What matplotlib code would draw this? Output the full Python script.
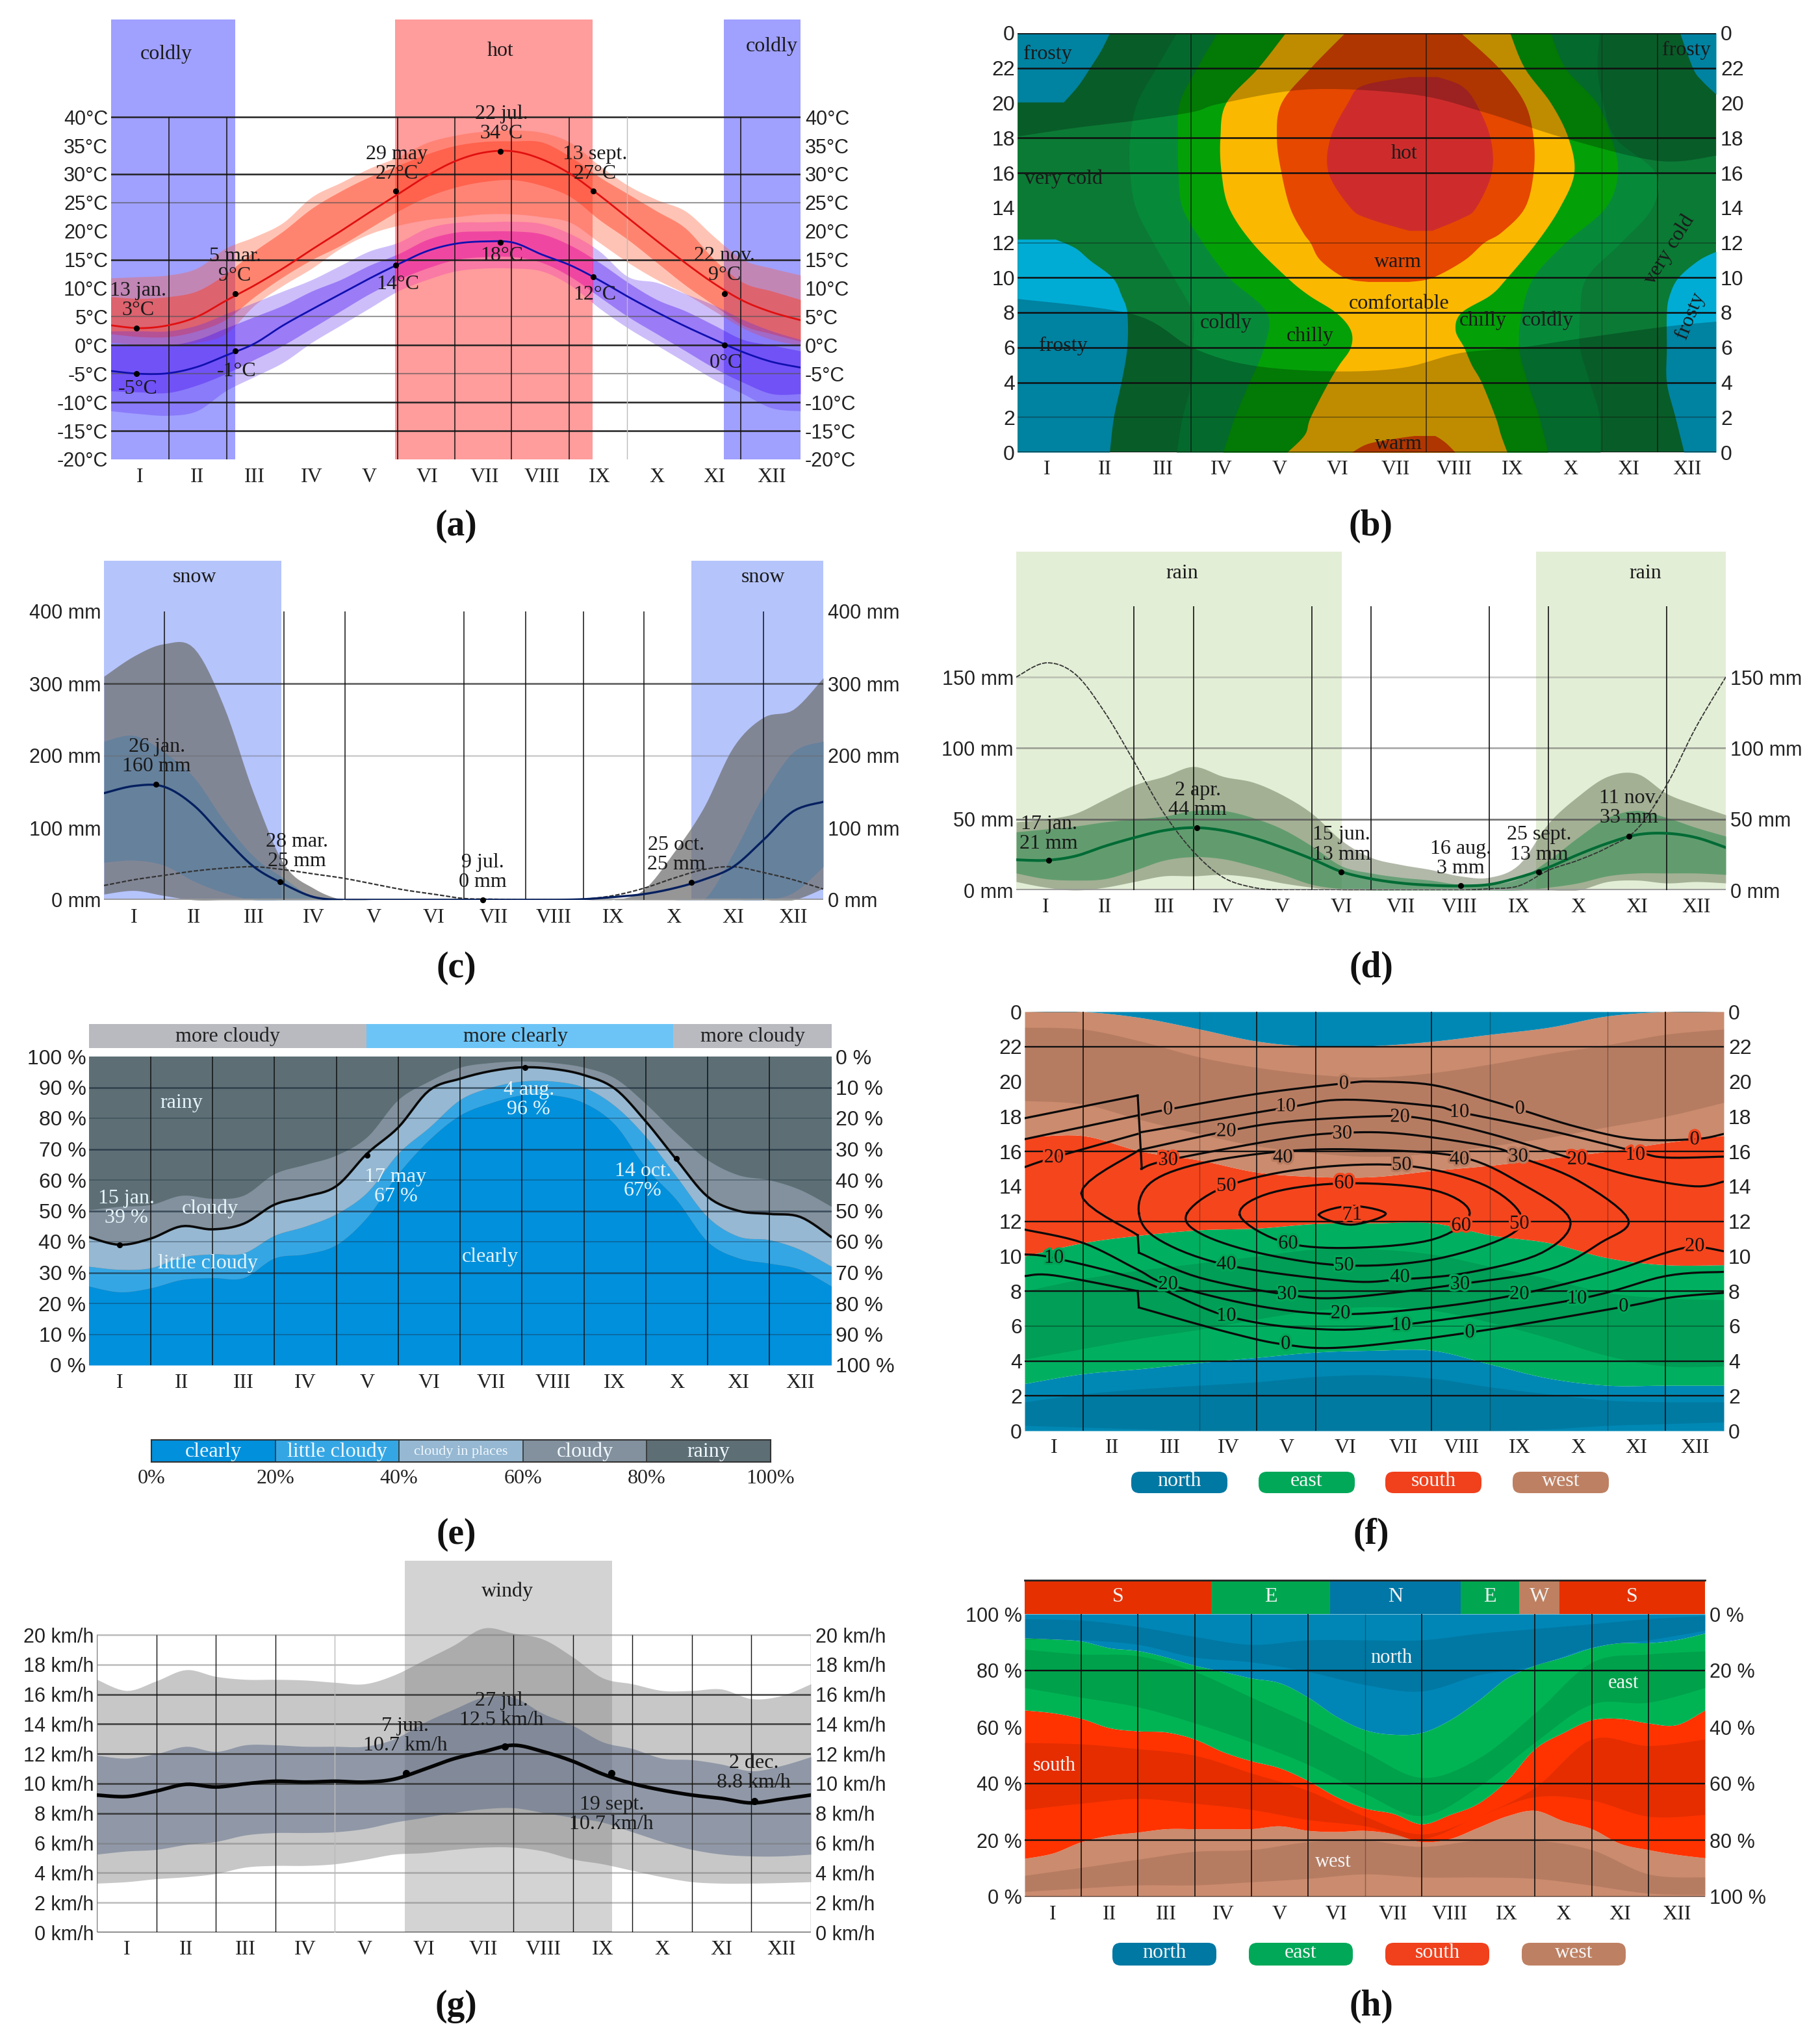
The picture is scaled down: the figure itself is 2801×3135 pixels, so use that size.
import numpy as np
import matplotlib
matplotlib.use('Agg')
import matplotlib.pyplot as plt
import matplotlib.patheffects as pe
from matplotlib.patches import FancyBboxPatch, Rectangle

plt.rcParams['font.family'] = ['Liberation Serif', 'DejaVu Serif']
SANS = ['Liberation Sans', 'DejaVu Sans']
W, H = 2801, 3135
MONTHS = ['I', 'II', 'III', 'IV', 'V', 'VI', 'VII', 'VIII', 'IX', 'X', 'XI', 'XII']
half = np.arange(25) * 0.5
months13 = np.arange(13)

# ---------- (a) temperature
a_cold_spans = [(0, 2.16), (10.67, 12)]
a_hot_span = (4.95, 8.38)
a_hi_mean = [3.5, 3.0, 3.5, 5.0, 7.8, 10.5, 13.5, 16.8, 20, 23.3, 26.5, 29.7, 32.3, 33.8, 34, 32.6, 30, 26.3, 22.3, 18.3, 14.4, 10.8, 7.8, 5.8, 4.4]
a_hi_o_up = [11.8, 12, 12.3, 13.5, 17, 19, 21.5, 26, 28.5, 31, 33, 35.5, 36.8, 37.5, 37.7, 37.3, 35.5, 31.5, 28, 25.5, 23.5, 19, 15, 13.5, 12.3]
a_hi_o_lo = [.5, .1, 0, .5, 2, 7, 10.5, 13.5, 17, 19.5, 21, 22, 22.5, 23, 23, 22.5, 21.5, 18, 14.5, 11.5, 9, 6, 3, 1, 0]
a_hi_i_up = [8.5, 8.2, 8.5, 9.5, 12.5, 16.5, 20, 24, 27, 29.5, 31.5, 33.5, 35, 35.7, 35.8, 35.6, 33, 29.5, 26.5, 23.5, 20.5, 15, 11, 9.5, 8]
a_hi_i_lo = [2, 1.5, 1.5, 2.5, 4.5, 8.5, 12, 15, 17.5, 20.5, 23.5, 26, 27.7, 28.7, 29, 28, 26, 22, 18.5, 14.5, 10.5, 7, 3.5, 2, .7]
a_lo_mean = [-4.5, -5, -4.9, -3.8, -1.8, .3, 3.5, 6.3, 9, 11.7, 14.2, 16.5, 17.8, 18.2, 18, 15.9, 14, 11.4, 8.5, 5.8, 3.3, 1, -1.2, -2.9, -3.9]
a_lo_o_up = [2.5, 2.5, 2.5, 3.5, 5.5, 7.5, 9.5, 11.5, 14, 16.5, 18, 20.5, 21.5, 21.6, 21.7, 21.3, 19.5, 16.5, 12, 11, 9, 7, 4.5, 2.5, 1]
a_lo_o_lo = [-11.5, -12, -12.3, -11.5, -8, -5.5, -3, .5, 3.5, 6.5, 9.5, 11.5, 13, 13.5, 13.5, 13, 10.5, 6.5, 3, 0, -3, -6, -8.5, -11, -11.5]
a_lo_i_up = [0, 0, 0, 1, 3, 5, 7, 9.5, 11.5, 14, 16, 18.5, 19.8, 20, 20, 19.5, 17.5, 14.5, 11, 8, 6, 3.5, 1, 0, -1]
a_lo_i_lo = [-8, -8.2, -8.3, -7, -5, -2.5, 0, 3, 6, 9, 11.5, 13.5, 15, 15.5, 15.5, 14.5, 12, 8.5, 5, 2, -1, -4, -6.5, -8.5, -8.5]
a_hi_pts = ([.45, 2.16, 4.96, 6.78, 8.39, 10.68], [3, 9, 27, 34, 27, 9])
a_lo_pts = ([.45, 2.16, 4.96, 6.78, 8.39, 10.68], [-5, -1, 14, 18, 12, 0])
a_ticks = [-20, -15, -10, -5, 0, 5, 10, 15, 20, 25, 30, 35, 40]
a_major = [40, 30, 15, 0, -10, -15]
a_minor = [25, 5, -5]
a_vlines = [1.01, 2.02, 4.99, 5.99, 6.97, 7.97, 10.96]
a_vlight = [8.98]
a_notes = [('13 jan.\n3°C', .47, 7.8), ('5 mar.\n9°C', 2.16, 13.9), ('29 may\n27°C', 4.98, 31.8), ('22 jul.\n34°C', 6.8, 38.8),
           ('13 sept.\n27°C', 8.42, 31.8), ('22 nov.\n9°C', 10.68, 14), ('-5°C', .47, -7.7), ('-1°C', 2.19, -4.6),
           ('14°C', 4.99, 10.7), ('18°C', 6.8, 15.7), ('12°C', 8.42, 8.9), ('0°C', 10.7, -3.1),
           ('coldly', .96, 51), ('coldly', 11.5, 52.4), ('hot', 6.78, 51.6)]

# ---------- (b) thermal comfort by hour and month
b_cold_h = [0, 2, 4, 6, 8, 10, 12, 14, 16, 18, 20, 22, 24]
b_cold_l = [2.73, 2.83, 2.98, 3.01, 3.0, 2.68, 2.33, 2.03, 1.93, 1.93, 2.05, 2.38, 2.73]
b_cold_r = [10.01, 10.0, 9.83, 9.66, 9.66, 9.77, 10.36, 10.9, 10.96, 10.27, 10.06, 9.96, 10.0]
b_chil_l = [3.53, 3.73, 3.98, 4.23, 4.28, 3.63, 3.18, 2.83, 2.76, 2.75, 2.78, 3.08, 3.43]
b_chil_r = [9.11, 8.96, 8.76, 8.61, 8.66, 8.86, 9.41, 10.1, 10.31, 10.2, 9.95, 9.41, 9.16]
b_comf_h = [0, 1, 2, 4, 5, 6, 7, 8, 9, 10, 12, 14, 16, 18, 20, 22, 24]
b_comf_l = [4.63, 4.93, 5.03, 5.34, 5.52, 5.72, 5.72, 5.47, 5.0, 4.63, 4.03, 3.63, 3.5, 3.48, 3.58, 4.13, 4.6]
b_comf_r = [8.41, 8.3, 8.21, 7.97, 7.8, 7.67, 7.52, 7.62, 8.12, 8.41, 8.91, 9.31, 9.56, 9.46, 9.16, 8.71, 8.46]
b_warm_h = [9.77, 10, 11, 12, 12.6, 14, 16, 18, 20, 22, 24]
b_warm_l = [6.02, 5.62, 5.2, 5.03, 4.9, 4.68, 4.53, 4.45, 4.53, 5.03, 5.62]
b_warm_r = [6.72, 7.12, 7.67, 8.01, 8.31, 8.71, 8.86, 8.86, 8.71, 8.27, 7.62]
b_warm2_h = [0, .5, .8, .95]
b_warm2_l = [5.74, 6.02, 6.5, 6.82]
b_warm2_r = [7.52, 7.37, 7.25, 7.17]
b_hot_h = [12.7, 13.4, 14, 16, 18, 20, 21, 21.5]
b_hot_l = [6.72, 6.02, 5.72, 5.34, 5.37, 5.67, 5.92, 6.72]
b_hot_r = [7.12, 7.62, 7.87, 8.14, 8.12, 7.87, 7.62, 7.22]
b_fr1_h = [0, 2, 4, 6, 8, 9, 10, 11, 11.7, 12.2]
b_fr1_r = [1.58, 1.65, 1.78, 1.88, 1.88, 1.78, 1.63, 1.24, .99, .65]
b_fr2_h = [20.05, 21, 22, 23, 24]
b_fr2_r = [.79, 1.04, 1.24, 1.43, 1.58]
b_fr3_h = [0, 2, 4, 6, 8, 9, 10, 11, 11.5]
b_fr3_l = [11.45, 11.3, 11.15, 11.15, 11.15, 11.2, 11.35, 11.7, 12]
b_fr4_h = [20.5, 21.3, 22, 24]
b_fr4_l = [12, 11.75, 11.6, 11.38]
b_night_up_x = [0, 1, 2, 3, 3.5, 5, 6.8, 8, 9.4, 11, 12]
b_night_up_h = [18.1, 18.6, 19, 19.5, 20, 20.8, 20.5, 19.5, 18, 16.7, 17]
b_night_lo_x = [0, 2, 3, 4, 5.4, 6.6, 7.6, 8.6, 9.6, 11.1, 12]
b_night_lo_h = [8.8, 7.9, 6, 5, 4.65, 4.85, 5.7, 6, 6.5, 7.2, 7.5]
b_strong = [22, 18, 16, 10, 8, 6, 4, 0, 24]
b_faint = [12, 2]
b_vlines = [2.98, 7.02, 11.0]
b_vfaint = [10.03]
b_notes = [('frosty', .52, 22.8, 0), ('frosty', 11.49, 23, 0), ('very cold', .79, 15.65, 0), ('hot', 6.64, 17.1, 0), ('warm', 6.54, 10.9, 0),
           ('comfortable', 6.55, 8.5, 0), ('warm', 6.55, .45, 0), ('coldly', 3.58, 7.4, 0), ('chilly', 5.02, 6.65, 0), ('chilly', 8, 7.55, 0),
           ('coldly', 9.11, 7.55, 0), ('frosty', .79, 6.1, 0), ('frosty', 11.56, 7.8, 68), ('very cold', 11.2, 11.6, 58)]

# ---------- (c) snow
c_spans = [(0, 2.96), (9.8, 12)]
c_o_up = [310, 338, 355, 349, 268, 147, 50, 16, 0, 0, 0, 0, 0, 0, 0, 0, 0, 0, 14, 65, 127, 212, 253, 264, 308]
c_i_up = [220, 228, 205, 170, 110, 60, 30, 4, 0, 0, 0, 0, 0, 0, 0, 0, 0, 0, 0, 0, 0, 65, 145, 205, 220]
c_i_lo = [52, 55, 48, 26, 10, 0, 0, 0, 0, 0, 0, 0, 0, 0, 0, 0, 0, 0, 0, 0, 0, 0, 0, 10, 46]
c_o_lo = [8, 13, 6, 0, 0, 0, 0, 0, 0, 0, 0, 0, 0, 0, 0, 0, 0, 0, 0, 0, 0, 0, 0, 0, 16]
c_mean = [148, 158, 157, 131, 87, 46, 22, 4, 0, 0, 0, 0, 0, 0, 0, 0, 1, 4, 8, 16, 28, 46, 83, 123, 136]
c_other = [20, 28, 34, 40, 44, 46, 42, 36, 30, 22, 14, 8, 2, 1, 0, 0, 1, 6, 16, 30, 42, 46, 38, 28, 15]
c_pts = ([.87, 2.94, 6.32, 9.8], [160, 25, 0, 24])
c_vlines = [1.01, 3, 4.02, 6.01, 7.03, 8, 9.01, 11]
c_notes = [('snow', 1.51, 447.6), ('snow', 11.0, 447.6), ('26 jan.\n160 mm', .88, 199), ('28 mar.\n25 mm', 3.22, 67),
           ('9 jul.\n0 mm', 6.32, 38), ('25 oct.\n25 mm', 9.55, 63)]

# ---------- (d) rain
d_spans = [(0, 5.5), (8.79, 12)]
d_o_up = [48, 50, 54, 64, 74, 80, 87, 80, 76, 67, 54, 35, 23, 18, 14.5, 10, 9, 18, 47, 66, 80, 82, 68, 60, 53]
d_i_up = [41, 43, 45, 48, 50, 52, 56, 56, 51, 43, 31, 17, 12, 9, 7, 4, 4, 8, 21, 37, 51, 56, 51, 44, 38]
d_i_lo = [12, 8, 7, 8, 14, 21, 23.5, 22, 17, 11, 4, 1, 0, 0, 0, 0, 0, 0, 2, 5, 10, 12, 12, 12, 11]
d_o_lo = [6, 2, 0, 2, 6, 10, 10, 11, 9, 5, 2, 0, 0, 0, 0, 0, 0, 0, 0, 0, 6, 7, 5, 6, 5]
d_mean = [21.4, 21, 24, 31, 37, 42, 44, 42, 37, 30, 22, 13, 8, 5, 3.5, 3, 4, 9, 16, 25, 33, 39, 40, 37, 30]
d_other = [150, 160, 152, 125, 90, 54, 27, 9, 2, 0, 0, 0, 0, 0, 0, 0, 1, 3, 14, 21, 30, 43, 74, 115, 150]
d_pts = ([.55, 3.05, 5.49, 7.52, 8.84, 10.36], [21, 44, 13, 3, 13, 38])
d_vlines = [1.99, 3, 5, 6, 8, 9, 11]
d_notes = [('rain', 2.81, 223), ('rain', 10.64, 223), ('17 jan.\n21 mm', .55, 39.4), ('2 apr.\n44 mm', 3.07, 63.4), ('15 jun.\n13 mm', 5.5, 32),
           ('16 aug.\n3 mm', 7.52, 22), ('25 sept.\n13 mm', 8.84, 32), ('11 nov.\n33 mm', 10.36, 57.8)]

# ---------- (e) cloud cover
e_clear = [25.6, 23.7, 25, 27.7, 28.3, 28.3, 34.7, 36, 39, 48, 62, 73, 81, 85, 87.5, 87.5, 85, 78, 64, 53.5, 40, 34.7, 33, 31, 25.6]
e_little = [32, 31, 31.5, 35, 36, 36.3, 42, 45, 49, 56, 68.6, 77, 86, 90, 92, 92, 90, 84, 74, 61, 48, 41.7, 40.6, 37.4, 32]
e_mean = [41.5, 39, 41, 45, 44, 45.8, 52, 54.6, 58, 68.6, 77, 89, 92.8, 95.3, 96.5, 96, 94, 89.6, 79, 66.5, 54.6, 50, 49, 48, 41.5]
e_cloudy = [50.3, 51.4, 52, 55, 54, 55, 62, 65, 68, 74, 86, 92, 96.5, 98, 98.5, 98, 96.5, 93, 84.7, 75, 66.5, 61.6, 60, 56.8, 51.4]
e_pts = ([.5, 4.5, 7.05, 9.5], [39, 68, 96.5, 67])
e_bar = [(0, 4.49, 'more cloudy', '#B9BAC0', 2.25), (4.49, 9.44, 'more clearly', '#6CC4F6', 6.9), (9.44, 12, 'more cloudy', '#B9BAC0', 10.73)]
e_notes = [('rainy', 1.5, 85), ('cloudy', 1.96, 50.6), ('little cloudy', 1.92, 33), ('clearly', 6.49, 35), ('15 jan.\n39 %', .61, 50.9),
           ('17 may\n67 %', 4.96, 57.7), ('4 aug.\n96 %', 7.11, 86), ('14 oct.\n67%', 8.95, 59.6)]
e_leg_names = ['clearly', 'little cloudy', 'cloudy in places', 'cloudy', 'rainy']
e_leg_cols = ['#0090DC', '#35A6E4', '#96B8D2', '#82919D', '#5D6F75']
e_leg_edges = [0, 20, 40, 60, 80, 100]

# ---------- (f) wind direction and sun elevation by hour
f_north = [2.7, 3.26, 3.55, 3.9, 4.2, 4.5, 4.6, 4.6, 3.8, 3, 2.6, 2.6, 2.6]
f_east = [10, 10.76, 11.2, 11.5, 11.6, 11.86, 11.9, 11.9, 11.2, 10.76, 9.9, 9.5, 9.5]
f_south = [16.8, 16.9, 16, 15.5, 14.8, 14.55, 14.55, 14.9, 15.2, 15.6, 16, 16.5, 16.9]
f_west = [24, 24, 23.65, 23, 22.3, 22, 22.05, 22.3, 22.7, 23.1, 23.75, 24, 24]
f_dark_bands = [([23.1, 23, 22.3, 21.4, 20.8, 20.4, 20.25, 20.5, 21, 21.6, 22.1, 22.7, 23],
                 [18.9, 18.7, 17.8, 17, 16.3, 15.9, 15.7, 15.9, 16.3, 16.8, 17.4, 18, 18.8]),
                ([8, 8.7, 9.2, 9.6, 10, 10.4, 10.4, 10.1, 9.4, 8.7, 7.9, 7.6, 7.5],
                 [4.1, 4.7, 5.3, 5.8, 6.4, 6.9, 7.1, 6.9, 6.2, 5.3, 4.3, 3.7, 3.7]),
                ([1.65, 2.1, 2.4, 2.6, 2.8, 3.1, 3.2, 3, 2.5, 2.1, 1.75, 1.65, 1.65],
                 [.3, .2, .1, 0, 0, 0, 0, 0, 0, .1, .3, .4, .5])]
f_contours = [
    ([0, 1.94], [17.9, 19.2]),
    ([2.01, 2.46, 4, 5.5, 6, 7, 8, 8.5, 9.48, 10.48, 11.5, 12], [18.1, 18.4, 19.3, 19.9, 20, 19.8, 18.9, 18.4, 17.4, 16.7, 16.7, 17]),
    ([0, 1.94], [16.7, 18.06]),
    ([2, 4.48, 5.5, 7, 7.46, 9, 10.48, 11, 12], [17.1, 18.5, 18.96, 18.6, 18.25, 17.2, 16, 15.65, 15.7]),
    ([0, .5, 1.94], [15.1, 15.65, 17]),
    ([2, 3.46, 4.5, 6, 6.8, 8, 9.48, 10.48, 11.5, 12], [16.1, 17.15, 17.7, 18, 17.9, 17, 15.5, 14.55, 14, 14.27]),
    ([2, 2.46, 4.4, 5.45, 6.5, 8, 8.47, 9.48, 10.36, 9.88, 9, 7.47, 5.5, 4.5, 3, 1.96], [15, 15.5, 16.7, 17.06, 17, 16.26, 15.7, 14.36, 12.1, 10.76, 9.24, 8.4, 7.63, 7.8, 8.77, 10.2]),
    ([1.94, .97, 1.96], [11.2, 13.6, 16.07]),
    ([1.96, 2.16, 3, 4.43, 5.8, 7.46, 8.5, 9.36, 8.88, 7.6, 6.44, 5.5, 3.46, 2.3, 1.96], [12.47, 14.2, 15.3, 16, 16.1, 15.7, 14.2, 12.1, 10.2, 9.05, 8.67, 8.58, 9.5, 10.95, 12.47]),
    ([2.79, 3.46, 4.8, 6.47, 7.8, 8.5, 8.29, 7, 5.48, 4, 3, 2.79], [12.47, 14, 15, 15.2, 14.2, 12.47, 11.14, 9.8, 9.47, 10.2, 11.33, 12.47]),
    ([3.69, 4.2, 5.48, 7, 7.64, 7, 5.5, 4.4, 3.69], [12.37, 13.6, 14.17, 13.8, 12.47, 10.95, 10.47, 10.85, 12.37]),
    ([5.05, 5.6, 6.2, 5.6, 5.05], [12.37, 12.88, 12.43, 11.8, 12.37]),
    ([0, 1, 1.93, 2.46, 4, 5.42, 7, 8.49, 10, 11, 11.5, 12], [11.52, 10.76, 9.24, 8.39, 7.15, 6.68, 7.06, 7.82, 9.05, 10.19, 10.53, 10.28]),
    ([0, .5, 1.93, 3.46, 5, 6.44, 9.48, 11, 12], [10.1, 9.9, 8.67, 6.58, 5.83, 6.05, 7.53, 8.86, 9.1]),
    ([0, .5, 1.94], [8.86, 8.9, 8]),
    ([1.96, 3.5, 4.48, 5.5, 7.64, 10.28, 11.08, 12], [7.06, 5.63, 4.93, 4.78, 5.63, 7.1, 7.63, 7.9]),
]
f_jumps = [([1.94, 2.01], [19.2, 15]), ([1.94, 1.96], [8, 7.06]), ([1.96, 1.94], [10.2, 11.2])]
f_labels = [('0', 5.48, 19.87), ('0', 2.46, 18.4), ('0', 8.5, 18.44), ('0', 11.5, 16.68), ('0', 4.48, 4.97), ('0', 7.64, 5.63), ('0', 10.28, 7.12),
            ('10', 4.48, 18.58), ('10', 7.46, 18.25), ('10', 10.48, 15.8), ('10', .5, 9.9), ('10', 3.46, 6.58), ('10', 6.46, 6.05), ('10', 9.48, 7.57),
            ('20', .5, 15.65), ('20', 3.46, 17.15), ('20', 6.44, 17.97), ('20', 9.48, 15.54), ('20', 11.5, 10.57), ('20', 2.46, 8.39), ('20', 5.42, 6.72), ('20', 8.49, 7.82),
            ('30', 2.46, 15.5), ('30', 5.45, 17.02), ('30', 8.47, 15.7), ('30', 4.5, 7.82), ('30', 7.47, 8.39),
            ('40', 4.43, 15.65), ('40', 7.46, 15.54), ('40', 3.46, 9.53), ('40', 6.44, 8.8),
            ('50', 3.46, 14.02), ('50', 6.47, 15.22), ('50', 8.49, 11.86), ('50', 5.48, 9.47),
            ('60', 5.48, 14.17), ('60', 7.49, 11.75), ('60', 4.52, 10.72), ('71', 5.62, 12.37)]
f_strong = [22, 16, 12, 8, 4, 2]
f_faint = [6]
f_vlines = [1, 3.98, 5, 6.98, 11]
f_vfaint = [3, 7.99, 10]
wind_names = ['north', 'east', 'south', 'west']

# ---------- (g) wind speed
g_span = (5.18, 8.66)
g_o_up = [17, 16.25, 16.9, 17.65, 17.2, 17, 17, 16.95, 16.8, 16.7, 17.3, 18.3, 19.3, 20.45, 20.1, 19.7, 18.5, 17.1, 16.7, 16.25, 16.25, 16.35, 15.7, 15.9, 16.7]
g_i_up = [11.9, 11.7, 12, 12.5, 12.15, 12.6, 12.6, 12.5, 12.5, 12.5, 13, 14.1, 15, 15.8, 15.8, 14.7, 13.9, 12.8, 12.35, 11.7, 11.6, 11.3, 10.85, 11.2, 11.8]
g_i_lo = [5.25, 5.46, 5.57, 5.9, 6.1, 6.54, 6.7, 6.7, 6.75, 6.97, 7.4, 7.72, 8.05, 8.3, 8.37, 8.05, 7.72, 7.4, 6.75, 6.1, 5.57, 5.25, 5.13, 5.13, 5.25]
g_o_lo = [3.3, 3.4, 3.6, 3.73, 3.95, 4.38, 4.49, 4.49, 4.6, 4.9, 5.25, 5.35, 5.57, 5.72, 5.72, 5.46, 4.92, 4.6, 4.16, 3.73, 3.4, 3.3, 3.3, 3.34, 3.4]
g_mean = [9.23, 9.13, 9.5, 9.95, 9.77, 9.99, 10.16, 10.1, 10.16, 10.1, 10.3, 10.96, 11.67, 12.15, 12.58, 12.15, 11.5, 10.64, 10, 9.56, 9.23, 9, 8.7, 8.95, 9.23]
g_pts = ([5.2, 6.86, 8.65, 11.05], [10.7, 12.5, 10.7, 8.8])
g_ticks = [0, 2, 4, 6, 8, 10, 12, 14, 16, 18, 20]
g_dark = [16, 14, 12, 10, 8]
g_light = [20, 18, 6, 4, 2]
g_vlines = [1, 2, 3, 7, 8, 9, 10, 11]
g_vfaint = [4]
g_notes = [('windy', 6.9, 22.9), ('27 jul.\n12.5 km/h', 6.8, 14.9), ('7 jun.\n10.7 km/h', 5.18, 13.2), ('19 sept.\n10.7 km/h', 8.65, 7.94), ('2 dec.\n8.8 km/h', 11.04, 10.74)]

# ---------- (h) wind direction shares
h_west = [13.5, 15.4, 19.4, 21.7, 22.8, 24, 24, 24, 24, 25, 23.4, 23, 23.4, 22.2, 19.4, 20.5, 24.5, 28.5, 30.5, 26.8, 24, 18.8, 16.6, 14.9, 13.7]
h_south = [66, 65, 63, 59.7, 58.6, 58.2, 55.7, 51.2, 48, 45.5, 41, 35.3, 31.3, 29.4, 25.7, 29, 33, 41, 52.3, 58, 62.5, 63, 61.4, 60.8, 66]
h_east = [91.5, 91.1, 90.4, 88, 87, 84.7, 81.8, 79.6, 77.3, 75.6, 70.5, 63.7, 59, 57.4, 58, 62.5, 69.4, 77.3, 81.8, 84.7, 88, 89.8, 89.8, 90.9, 93.2]
h_north_dark = ([98.3, 97.8, 95.5, 92, 89.2, 90.8, 90.8, 90.8, 93.1, 94.8, 96.5, 98.3, 99.4], [91.1, 90.8, 89.2, 84.7, 83, 79.6, 75, 72.7, 78.4, 81.8, 88.3, 90.8, 94.2])
h_east_dark = ([87.5, 85.8, 85.2, 79.6, 70.5, 61.4, 51.2, 42.1, 48.9, 64.9, 82.9, 85.8, 86.9], [73.9, 70.5, 67.1, 61.4, 54.6, 46.7, 36.5, 28.6, 38.8, 54.6, 68.1, 68.7, 73.9])
h_south_dark = ([54.5, 54, 52.3, 50, 43.7, 37.5, 28.4, 22.1, 28.4, 38.6, 55.7, 53.4, 55.7], [30.8, 33, 34.7, 33, 30.8, 27.2, 25, 20.4, 28.4, 35.3, 34.1, 28.4, 29])
h_west_dark = ([7.5, 10.3, 13.2, 16, 16.6, 19.4, 20, 17.7, 20, 20, 16.6, 8, 6.9], [1.8, 3, 4.1, 4.1, 5.2, 6.4, 8, 6.9, 6.9, 6.4, 4, 1.2, .7])
h_bar = [(0, 3.29, 'S', '#E63000'), (3.29, 5.39, 'E', '#00A650'), (5.39, 7.69, 'N', '#0077A6'), (7.69, 8.72, 'E', '#00A650'), (8.72, 9.43, 'W', '#BE8060'), (9.43, 12, 'S', '#E63000')]
h_ticks = [0, 20, 40, 60, 80, 100]
h_notes = [('north', 6.47, 84.4), ('east', 10.56, 75.6), ('south', .53, 46.4), ('west', 5.44, 12.4)]
h_vlines = [1, 2, 3, 4, 5, 7, 9, 10, 11]

captions = [('(a)', 702, 810), ('(b)', 2110, 810), ('(c)', 702, 1490), ('(d)', 2110, 1490), ('(e)', 702, 2362), ('(f)', 2110, 2362), ('(g)', 702, 3088), ('(h)', 2110, 3088)]

# ---------- helpers
fig = plt.figure(figsize=(W / 100, H / 100), dpi=100, facecolor='white')


def axpx(x0, x1, ytop, ybot):
    a = fig.add_axes([x0 / W, 1 - ybot / H, (x1 - x0) / W, (ybot - ytop) / H])
    return a


def smooth(x, *ys, n=8):
    """Catmull-Rom rendering of polylines through the listed values (closed loops wrap)."""
    arrs = [np.asarray(v, float) for v in (x,) + ys]
    closed = all(a[0] == a[-1] for a in arrs) and len(arrs) > 1 and len(arrs[0]) > 3
    out = []
    for a in arrs:
        p = np.r_[a[-2], a, a[1]] if closed else np.r_[a[0], a, a[-1]]
        seg = []
        for i in range(1, len(p) - 2):
            t = np.linspace(0, 1, n, endpoint=False)
            seg.append(.5 * (2 * p[i] + (p[i + 1] - p[i - 1]) * t + (2 * p[i - 1] - 5 * p[i] + 4 * p[i + 1] - p[i + 2]) * t ** 2 +
                             (3 * p[i] - p[i - 1] - 3 * p[i + 1] + p[i + 2]) * t ** 3))
        seg.append(a[-1:])
        out.append(np.concatenate(seg))
    return out


def panel(rect, ylim, lticks, llabels, rticks=None, rlabels=None, size=22):
    a = axpx(*rect)
    a.set_xlim(0, 12)
    a.set_ylim(*ylim)
    for s in a.spines.values():
        s.set_visible(False)
    a.set_xticks(np.arange(12) + .5, MONTHS)
    a.tick_params(axis='x', length=0, pad=9, labelsize=23, labelcolor='#222222')
    a.set_yticks(lticks, llabels)
    a.tick_params(axis='y', length=0, pad=3, labelsize=size, labelcolor='#222222')
    for t in a.get_yticklabels():
        t.set_fontfamily(SANS)
    b = a.twinx()
    b.set_ylim(*ylim)
    for s in b.spines.values():
        s.set_visible(False)
    b.set_yticks(rticks if rticks is not None else lticks, rlabels if rlabels is not None else llabels)
    b.tick_params(axis='y', length=0, pad=5, labelsize=size, labelcolor='#222222')
    for t in b.get_yticklabels():
        t.set_fontfamily(SANS)
    return a


def band(a, lo, hi, color, alpha, z=2, clip=None):
    xs, l, h = smooth(half, lo, hi)
    p = a.fill_between(xs, l, h, color=color, alpha=alpha, lw=0, zorder=z)
    if clip is not None:
        p.set_clip_path(Rectangle((clip[0], -500), clip[1] - clip[0], 2000, transform=a.transData))


def note(a, txt, x, y, color='#1a1a1a', size=23, rot=0):
    a.text(x, y, txt, ha='center', va='center', fontsize=size, color=color, rotation=rot, linespacing=1.05, zorder=20)


def hl(a, ys, color='#222222', lw=2, alpha=1, z=6):
    for v in ys:
        a.axhline(v, color=color, lw=lw, alpha=alpha, zorder=z)


# ---------- (a)
ax = panel((170.5, 1232, 30, 707), (-20, 57.1), a_ticks, [f'{v}°C' for v in a_ticks])
for s in a_cold_spans:
    ax.axvspan(*s, color='#A0A0FF', lw=0, zorder=1)
ax.axvspan(*a_hot_span, color='#FF9C9C', lw=0, zorder=1)
band(ax, a_hi_o_lo, a_hi_o_up, '#FF5A32', .36)
band(ax, a_hi_i_lo, a_hi_i_up, '#FF3A1E', .46)
for clip_span in [(0, a_hot_span[0]), (a_hot_span[1], 12)]:
    band(ax, a_lo_o_lo, a_lo_o_up, '#5A28F0', .30, 3, clip_span)
    band(ax, a_lo_i_lo, a_lo_i_up, '#4A10F0', .38, 3, clip_span)
band(ax, a_lo_o_lo, a_lo_o_up, '#F03CB4', .35, 3, a_hot_span)
band(ax, a_lo_i_lo, a_lo_i_up, '#E81EA0', .55, 3, a_hot_span)
hl(ax, a_major, '#222222', 1.8)
hl(ax, a_minor, '#555555', 1.5, .6)
ax.vlines(a_vlines, -20, 40, color='#111111', lw=1.1, zorder=6)
ax.vlines(a_vlight, -20, 40, color='#bbbbbb', lw=1.0, zorder=6)
x_, y_ = smooth(half, a_hi_mean)
ax.plot(x_, y_, color='#E01010', lw=2, zorder=8)
x_, y_ = smooth(half, a_lo_mean)
ax.plot(x_, y_, color='#1010B0', lw=2, zorder=8)
ax.plot(*a_hi_pts, 'o', color='k', ms=5.5, zorder=9)
ax.plot(*a_lo_pts, 'o', color='k', ms=5.5, zorder=9)
for t, x, y in a_notes:
    note(ax, t, x, y)

# ---------- (b)
bt = list(range(0, 24, 2)) + [24]
ax = panel((1566, 2641, 51, 696), (0, 24), bt, [str(v % 24) for v in bt], size=23)
ax.axvspan(0, 12, color='#0B7A35', lw=0, zorder=1)


def blob(a, h, l, r, color, z):
    hs, ls, rs = smooth(h, l, r)
    a.fill_betweenx(hs, ls, rs, color=color, lw=0, zorder=z)


blob(ax, b_cold_h, b_cold_l, b_cold_r, '#068A3A', 2)
blob(ax, b_cold_h, b_chil_l, b_chil_r, '#04A008', 3)
blob(ax, b_comf_h, b_comf_l, b_comf_r, '#FBB800', 4)
blob(ax, b_warm_h, b_warm_l, b_warm_r, '#E64800', 5)
blob(ax, b_warm2_h, b_warm2_l, b_warm2_r, '#E64800', 5)
blob(ax, b_hot_h, b_hot_l, b_hot_r, '#CE2C2C', 6)
frost = '#00ACD4'
blob(ax, b_fr1_h, np.zeros(len(b_fr1_h)), b_fr1_r, frost, 6)
blob(ax, b_fr2_h, np.zeros(len(b_fr2_h)), b_fr2_r, frost, 6)
blob(ax, b_fr3_h, b_fr3_l, np.full(len(b_fr3_h), 12.0), frost, 6)
blob(ax, b_fr4_h, b_fr4_l, np.full(len(b_fr4_h), 12.0), frost, 6)
xu, yu = smooth(b_night_up_x, b_night_up_h)
ax.fill_between(xu, yu, 24, color='k', alpha=.24, lw=0, zorder=7)
xl, yl = smooth(b_night_lo_x, b_night_lo_h)
ax.fill_between(xl, 0, yl, color='k', alpha=.24, lw=0, zorder=7)
hl(ax, b_strong, '#101010', 1.8, z=8)
hl(ax, b_faint, '#101010', 1.4, .35, z=8)
ax.vlines(b_vlines, 0, 24, color='#111111', lw=1.1, alpha=.8, zorder=8)
ax.vlines(b_vfaint, 0, 24, color='#111111', lw=1.0, alpha=.3, zorder=8)
for t, x, y, r in b_notes:
    note(ax, t, x, y, rot=r)

# ---------- (c)
ct = [0, 100, 200, 300, 400]
ax = panel((160, 1267, 863, 1385), (0, 400 * (1385 - 863) / (1385 - 941)), ct, [f'{v} mm' for v in ct])
for s in c_spans:
    ax.axvspan(*s, color='#B5C4FB', lw=0, zorder=1)
band(ax, c_o_lo, c_o_up, '#6E6E6E', .72)
band(ax, c_i_lo, c_i_up, '#3E7AA8', .40, 3)
hl(ax, [300], '#333333', 2, .75)
hl(ax, [200], '#666666', 2, .3)
hl(ax, [0], '#999999', 3, .9)
ax.vlines(c_vlines, 0, 400, color='#111111', lw=1.1, zorder=6)
x_, y_ = smooth(half, c_other)
ax.plot(x_, np.clip(y_, 0, None), color='#333333', lw=1.6, ls=(0, (3, 1.2)), zorder=8)
x_, y_ = smooth(half, c_mean)
ax.plot(x_, np.clip(y_, 0, None), color='#05205F', lw=2.4, zorder=9)
ax.plot(*c_pts, 'o', color='k', ms=5.5, zorder=10, clip_on=False)
for t, x, y in c_notes:
    note(ax, t, x, y)

# ---------- (d)
dt = [0, 50, 100, 150]
ax = panel((1564, 2656, 849, 1370), (0, 150 * (1370 - 849) / (1370 - 1042)), dt, [f'{v} mm' for v in dt])
for s in d_spans:
    ax.axvspan(*s, color='#E3EED6', lw=0, zorder=1)
band(ax, d_o_lo, d_o_up, '#5C6C4A', .47)
band(ax, d_i_lo, d_i_up, '#2E8C50', .55, 3)
hl(ax, [150], '#777777', 2, .35)
hl(ax, [100], '#666666', 2, .55)
hl(ax, [50], '#555555', 2, .8)
hl(ax, [0], '#999999', 3, .9)
ax.vlines(d_vlines, 0, 200, color='#111111', lw=1.2, zorder=6)
x_, y_ = smooth(half, d_other)
ax.plot(x_, np.clip(y_, 0, None), color='#333333', lw=1.3, ls=(0, (4, 1)), zorder=8)
x_, y_ = smooth(half, d_mean)
ax.plot(x_, y_, color='#006B35', lw=3, zorder=9)
ax.plot(*d_pts, 'o', color='k', ms=5.5, zorder=10)
for t, x, y in d_notes:
    note(ax, t, x, y)

# ---------- (e)
et = list(range(0, 101, 10))
ax = panel((136.6, 1279.5, 1626, 2101), (0, 100), et, [f'{v} %' for v in et], et, [f'{100 - v} %' for v in et], size=23)
ax.set_facecolor(e_leg_cols[4])
xs_, c1, c2, c3, c4 = smooth(half, e_clear, e_little, e_mean, e_cloudy)
ax.fill_between(xs_, 0, c1, color=e_leg_cols[0], lw=0, zorder=2)
ax.fill_between(xs_, c1, c2, color=e_leg_cols[1], lw=0, zorder=2)
ax.fill_between(xs_, c2, c3, color=e_leg_cols[2], lw=0, zorder=2)
ax.fill_between(xs_, c3, c4, color=e_leg_cols[3], lw=0, zorder=2)
hl(ax, [90, 70, 50, 30], '#1c2c3c', 1.8, .7)
hl(ax, [80, 60, 40, 20, 10], '#1c2c3c', 1.4, .35)
ax.vlines(range(1, 12), 0, 100, color='#111111', lw=1.1, zorder=6)
ax.plot(xs_, c3, color='#0a0a0a', lw=2.6, zorder=8)
ax.plot(*e_pts, 'o', color='k', ms=5.5, zorder=9, clip_on=False)
for t, x, y in e_notes:
    note(ax, t, x, y, color='#E6F4FA')
bar = axpx(136.6, 1279.5, 1576, 1613)
bar.set_xlim(0, 12)
bar.set_ylim(0, 1)
bar.axis('off')
for x0, x1, t, c, xc in e_bar:
    bar.barh(.5, x1 - x0, left=x0, height=1, color=c, lw=0)
    bar.text(xc, .47, t, ha='center', va='center', fontsize=23, color='#222222')
leg = axpx(233, 1186, 2216, 2250)
leg.set_xlim(0, 100)
leg.set_ylim(0, 1)
for s in leg.spines.values():
    s.set_color('#333333')
    s.set_linewidth(1.5)
for i, n in enumerate(e_leg_names):
    leg.barh(.5, 20, left=e_leg_edges[i], height=1, color=e_leg_cols[i], lw=0)
    leg.axvline(e_leg_edges[i], color='#333333', lw=1.2)
    leg.text(e_leg_edges[i] + 10, .47, n, ha='center', va='center', color='#F0F8FF', fontsize=23 if i != 2 else 16)
leg.set_xticks(e_leg_edges, [f'{v}%' for v in e_leg_edges])
leg.set_yticks([])
leg.tick_params(axis='x', length=0, pad=8, labelsize=23, labelcolor='#222222')

# ---------- (f)
ax = panel((1577, 2653, 1557, 2202), (0, 24), bt, [str(v % 24) for v in bt], size=23)
fc = ['#0088B4', '#00B060', '#F5451D', '#CB8B6E']
mx, n_, e_, s_, w_ = smooth(months13, f_north, f_east, f_south, f_west)
ax.fill_between(mx, 0, n_, color=fc[0], lw=0, zorder=2)
ax.fill_between(mx, n_, e_, color=fc[1], lw=0, zorder=2)
ax.fill_between(mx, e_, s_, color=fc[2], lw=0, zorder=2)
ax.fill_between(mx, s_, w_, color=fc[3], lw=0, zorder=2)
ax.fill_between(mx, w_, 24, color=fc[0], lw=0, zorder=2)
for up, lo in f_dark_bands:
    m2, u2, l2 = smooth(months13, up, lo)
    ax.fill_between(m2, l2, u2, color='k', alpha=.10, lw=0, zorder=3)
hl(ax, f_strong, '#101010', 1.7)
hl(ax, f_faint, '#101010', 1.4, .35)
ax.vlines(f_vlines, 0, 24, color='#111111', lw=1.2, zorder=6)
ax.vlines(f_vfaint, 0, 24, color='#111111', lw=1.0, alpha=.35, zorder=6)
for cx, cy in f_contours:
    x2, y2 = smooth(cx, cy)
    ax.plot(x2, y2, color='#0a0a0a', lw=2.3, zorder=8)
for cx, cy in f_jumps:
    ax.plot(cx, cy, color='#0a0a0a', lw=2.3, zorder=8)
for t, x, y in f_labels:
    if y < np.interp(x, months13, f_east):
        bg = '#00A658'
    elif y < np.interp(x, months13, f_south):
        bg = fc[2]
    else:
        bg = '#B97C60'
    ax.text(x, y, t, ha='center', va='center', fontsize=22, color='#111111', zorder=10,
            path_effects=[pe.withStroke(linewidth=5, foreground=bg)])

# ---------- (g)
ax = panel((149, 1248, 2402, 2974), (0, 20 * (2974 - 2402) / (2974 - 2516)), g_ticks, [f'{v} km/h' for v in g_ticks])
ax.axvspan(*g_span, color='#D3D3D3', lw=0, zorder=1)
band(ax, g_o_lo, g_o_up, '#6E6E6E', .38)
band(ax, g_i_lo, g_i_up, '#5A6A88', .50, 3)
hl(ax, g_dark, '#333333', 2, .85)
hl(ax, g_light, '#777777', 2, .45)
hl(ax, [0], '#333333', 2.2, 1)
ax.vlines(g_vlines, 0, 20, color='#111111', lw=1.0, zorder=6)
ax.vlines(g_vfaint, 0, 20, color='#bbbbbb', lw=1.0, zorder=6)
ax.vlines([0, 12], 0, 20, color='#777777', lw=1.0, zorder=6)
x_, y_ = smooth(half, g_mean)
ax.plot(x_, y_, color='#050505', lw=4, zorder=8)
ax.plot(*g_pts, 'o', color='k', ms=7, zorder=9)
for t, x, y in g_notes:
    note(ax, t, x, y)

# ---------- (h)
ax = panel((1577, 2624, 2432, 2919), (0, 100 + (2484 - 2432) / (2919 - 2484) * 100), h_ticks, [f'{v} %' for v in h_ticks], h_ticks, [f'{100 - v} %' for v in h_ticks], size=22)
xs_, w2, s2, e2 = smooth(half, h_west, h_south, h_east)
ax.fill_between(xs_, 0, w2, color='#CB8B6E', lw=0, zorder=2)
ax.fill_between(xs_, w2, s2, color='#FF3300', lw=0, zorder=2)
ax.fill_between(xs_, s2, e2, color='#00B454', lw=0, zorder=2)
ax.fill_between(xs_, e2, 100, color='#0086B6', lw=0, zorder=2)
for up, lo in (h_north_dark, h_east_dark, h_south_dark, h_west_dark):
    m2, u2, l2 = smooth(months13, up, lo)
    ax.fill_between(m2, l2, u2, color='k', alpha=.10, lw=0, zorder=3)
hl(ax, [80, 40, 20], '#101010', 1.7)
hl(ax, [0], '#333333', 2)
ax.vlines(h_vlines, 0, 100, color='#111111', lw=1.2, zorder=6)
ax.vlines([6], 0, 100, color='#111111', lw=1.0, alpha=.35, zorder=6)
for x0, x1, t, c in h_bar:
    ax.bar(x0, (2484 - 2432) / (2919 - 2484) * 100, width=x1 - x0, bottom=100, align='edge', color=c, lw=0, zorder=4)
    ax.text((x0 + x1) / 2, 106, t, ha='center', va='center', fontsize=23, color='#F2F2F2', zorder=7)
ax.axhline(100 + (2484 - 2432) / (2919 - 2484) * 100, color='#222222', lw=2, zorder=7, clip_on=False)
for t, x, y in h_notes:
    note(ax, t, x, y, color='#F5F5F5', size=22)

# ---------- overlay: rounded legends and captions
ov = fig.add_axes([0, 0, 1, 1], facecolor='none')
ov.set_xlim(0, W)
ov.set_ylim(H, 0)
ov.axis('off')


def pills(xs, wid, y0, y1, cols):
    for x, n, c in zip(xs, wind_names, cols):
        ov.add_patch(FancyBboxPatch((x, y0), wid, y1 - y0, boxstyle='round,pad=0,rounding_size=13', fc=c, ec='none'))
        ov.text(x + wid / 2, (y0 + y1) / 2 - 2, n, ha='center', va='center', color='#F5F5F5', fontsize=23)


pills([1741, 1937, 2132, 2328], 148, 2265, 2298, ['#0078A4', '#00A858', '#F0401C', '#BE8062'])
pills([1712, 1922, 2132, 2342], 160, 2990, 3025, ['#0078A4', '#00A858', '#F0401C', '#BE8062'])
for t, x, y in captions:
    ov.text(x, y, t, ha='center', va='center', fontsize=40, fontweight='bold', color='#111111')

fig.savefig('out.png', dpi=100, facecolor='white')
